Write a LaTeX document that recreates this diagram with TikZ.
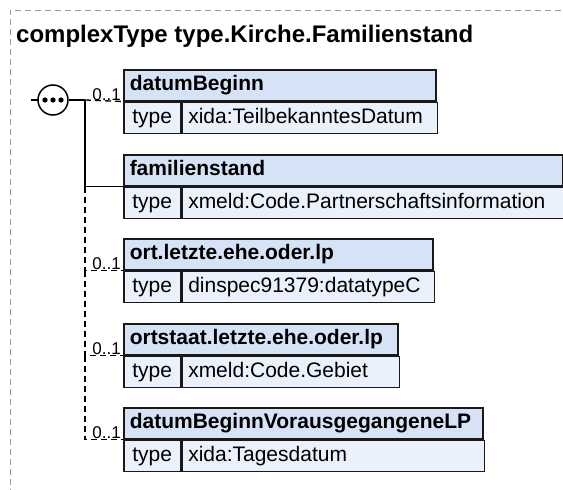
\documentclass[tikz,border=0pt]{standalone}
\usepackage{fontspec}
\setmainfont{Liberation Sans}
\usetikzlibrary{positioning}

\definecolor{hdrfill}{RGB}{214,227,247}
\definecolor{rowfill}{RGB}{234,241,252}
\definecolor{framegray}{RGB}{155,155,155}

\begin{document}
\begin{tikzpicture}[
  x=1pt, y=-1pt,
  frame/.style={draw=framegray, line width=1pt, dash pattern=on 6pt off 4pt},
  title/.style={anchor=base west, inner sep=0pt, font=\fontsize{24}{28}\selectfont\bfseries},
  hdr/.style={draw=black!90, line width=1.5pt, fill=hdrfill, anchor=north west,
    minimum height=31pt, inner xsep=6pt, inner ysep=0pt, align=left,
    text height=15.5pt, text depth=4.5pt, font=\fontsize{21}{24}\selectfont\bfseries},
  cell/.style={draw=black!90, line width=1.5pt, fill=rowfill, anchor=north west,
    minimum height=31pt, inner xsep=6pt, inner ysep=0pt, align=left,
    text height=15.5pt, text depth=4.5pt, font=\fontsize{21}{24}\selectfont},
  seq/.style={circle, draw, line width=1.5pt, fill=white, minimum size=30pt, inner sep=0pt},
  conn/.style={line width=1.3pt},
  opt/.style={line width=1.3pt, dash pattern=on 6pt off 4pt},
  mult/.style={anchor=south east, inner xsep=2pt, inner ysep=1pt, font=\fontsize{17}{19}\selectfont}
]
\useasboundingbox (0,0) rectangle (563,490);

% Box positions (x left, y top)
\def\xBox{123}
\def\yDb{69}
\def\yFam{154}
\def\yOrt{238}
\def\yOs{323}
\def\yDbv{407}

% Frame and title
\draw[frame] (10,495) |- (570,10);
\node[title] (title) at (16,42) {complexType type.Kirche.Familienstand};

% datumBeginn
\node[hdr, text width=300pt] (dbHdr) at (\xBox,\yDb) {datumBeginn};
\node[cell, minimum width=57pt] (dbType) at (dbHdr.south west) {type};
\node[cell, text width=243pt] (dbVal) at (dbType.north east) {xida:TeilbekanntesDatum};

% familienstand
\node[hdr, text width=427pt] (famHdr) at (\xBox,\yFam) {familienstand};
\node[cell, minimum width=57pt] (famType) at (famHdr.south west) {type};
\node[cell, text width=370pt] (famVal) at (famType.north east) {xmeld:Code.Partnerschaftsinformation};

% ort.letzte.ehe.oder.lp
\node[hdr, text width=297pt] (ortHdr) at (\xBox,\yOrt) {ort.letzte.ehe.oder.lp};
\node[cell, minimum width=57pt] (ortType) at (ortHdr.south west) {type};
\node[cell, text width=240pt] (ortVal) at (ortType.north east) {dinspec91379:datatypeC};

% ortstaat.letzte.ehe.oder.lp
\node[hdr, text width=262pt] (osHdr) at (\xBox,\yOs) {ortstaat.letzte.ehe.oder.lp};
\node[cell, minimum width=57pt] (osType) at (osHdr.south west) {type};
\node[cell, text width=205pt] (osVal) at (osType.north east) {xmeld:Code.Gebiet};

% datumBeginnVorausgegangeneLP
\node[hdr, text width=347pt] (dbvHdr) at (\xBox,\yDbv) {datumBeginnVorausgegangeneLP};
\node[cell, minimum width=57pt] (dbvType) at (dbvHdr.south west) {type};
\node[cell, text width=290pt] (dbvVal) at (dbvType.north east) {xida:Tagesdatum};

% Sequence compositor
\coordinate (entry) at (31,100);
\coordinate (fork) at (85,100);
\draw[conn] (entry) -- (53,100);
\node[seq] (seq) at (53,100) {};
\foreach \dx in {-8,0,8} {
  \fill (seq.center) ++(\dx,0) circle (2.7pt);
}
\draw[conn] (seq) -- (fork);

% Connectors to the elements
\draw[opt] (fork) -- (dbHdr.south west);
\draw[conn] (fork) |- (famHdr.south west);
\draw[opt] (fork |- famHdr.south west) |- (ortHdr.south west);
\draw[opt] (fork |- ortHdr.south west) |- (osHdr.south west);
\draw[opt] (fork |- osHdr.south west) |- (dbvHdr.south west);

% Multiplicities
\node[mult] (dbMult) at (dbHdr.south west) {0..1};
\node[mult] (ortMult) at (ortHdr.south west) {0..1};
\node[mult] (osMult) at (osHdr.south west) {0..1};
\node[mult] (dbvMult) at (dbvHdr.south west) {0..1};

\end{tikzpicture}
\end{document}
